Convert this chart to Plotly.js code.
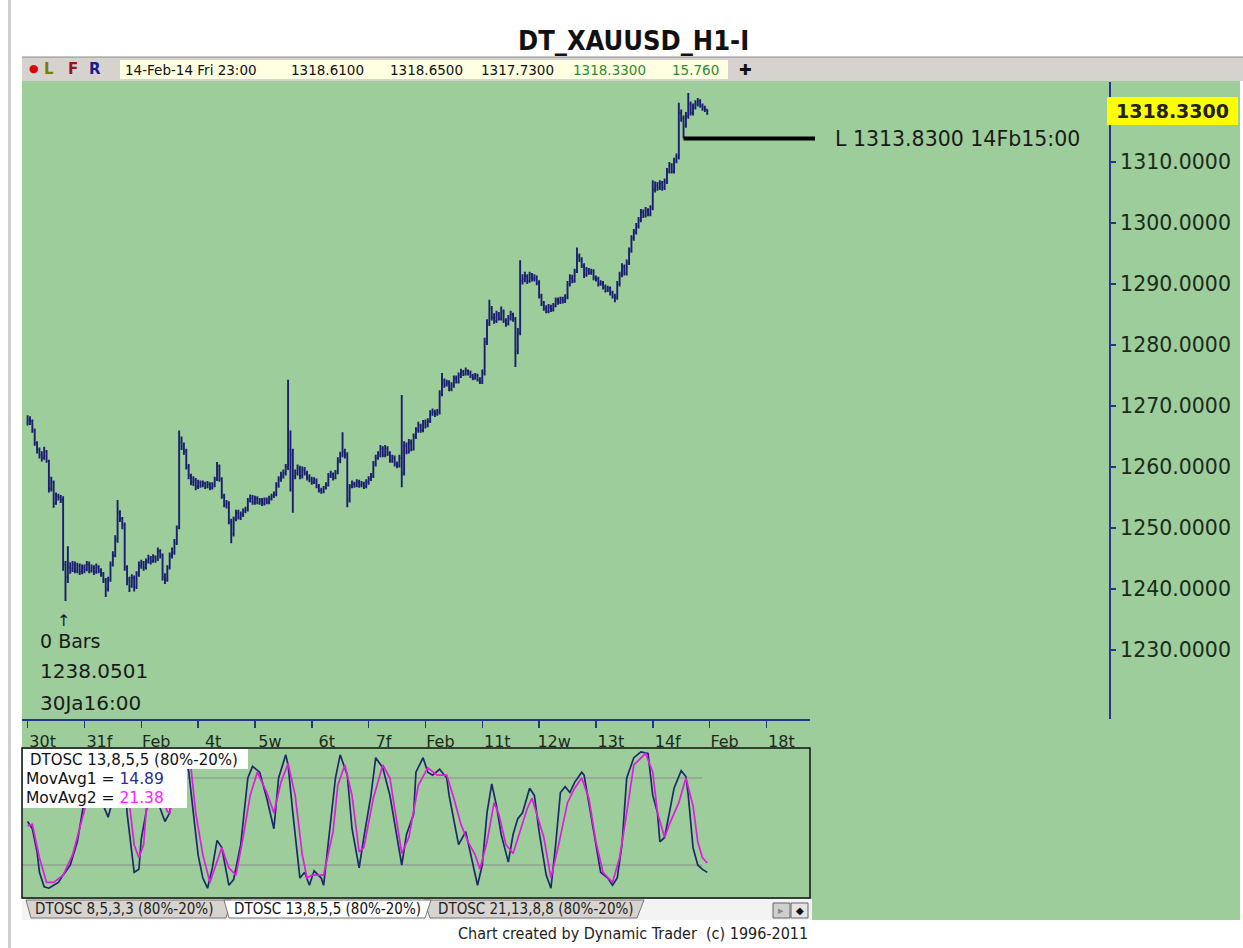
<!DOCTYPE html>
<html>
<head>
<meta charset="utf-8">
<script src="https://cdn.plot.ly/plotly-3.0.1.min.js"></script>
<style>html,body{margin:0;padding:0;background:#fff;}#chart{width:1243px;height:948px;}</style>
</head>
<body>
<div id="chart"></div>
<script>
// ---------- DATA (hourly bars, 30 Jan - 14 Feb 2014) ----------
const dayLabels = ['30t','31f','Feb','4t','5w','6t','7f','Feb','11t','12w','13t','14f','Feb','18t'];
const priceTicks = [1230,1240,1250,1260,1270,1280,1290,1300,1310];

const O = [
1267.2,1267.7,1267.5,1266.0,1263.9,1262.8,1262.0,1261.5,1262.5,1261.0,1256.5,1257.5,1254.0,1255.2,1255.0,1254.6,1244.0,1242.0,1243.5,1243.2,1244.0,1243.0,1243.8,1242.8,
1243.5,1243.2,1244.0,1243.0,1243.5,1242.8,1243.6,1243.0,1242.5,1241.5,1240.0,1241.5,1244.0,1245.5,1248.0,1252.5,1251.5,1250.5,1243.5,1241.5,1240.5,1241.8,1240.3,1242.5,
1243.8,1244.2,1243.5,1244.5,1245.0,1244.6,1245.2,1244.8,1246.2,1245.5,1242.0,1241.5,1243.5,1245.5,1246.0,1247.5,1250.0,1264.0,1263.5,1262.5,1260.0,1258.5,1257.5,1257.8,
1256.8,1257.4,1257.0,1257.3,1256.8,1257.2,1256.6,1257.0,1258.0,1260.2,1258.0,1255.2,1253.8,1254.0,1251.0,1249.0,1251.5,1252.5,1251.8,1252.2,1252.8,1253.0,1254.5,1255.0,
1254.2,1254.8,1254.2,1254.5,1254.0,1254.6,1254.2,1254.8,1255.2,1255.5,1257.0,1258.0,1258.5,1259.0,1260.0,1262.8,1262.0,1258.5,1259.0,1259.8,1258.5,1259.6,1259.0,1258.3,
1258.0,1257.5,1257.8,1256.8,1256.2,1256.0,1256.5,1257.0,1258.5,1258.8,1258.2,1259.0,1261.0,1262.0,1262.5,1262.0,1254.5,1256.8,1257.2,1257.0,1257.5,1257.0,1257.3,1256.8,
1257.5,1258.0,1258.5,1260.5,1261.5,1262.0,1263.0,1262.0,1263.0,1262.2,1261.0,1261.5,1260.5,1260.2,1261.5,1259.0,1263.5,1262.5,1264.0,1263.0,1265.0,1266.0,1266.8,1266.0,
1267.3,1266.8,1267.5,1268.8,1269.0,1268.7,1269.0,1272.0,1274.0,1273.5,1273.8,1272.8,1273.4,1274.5,1274.0,1275.0,1275.6,1275.2,1275.8,1275.4,1275.0,1274.6,1275.0,1274.3,
1274.0,1275.5,1280.5,1283.5,1286.0,1284.5,1284.0,1285.0,1284.3,1285.5,1284.0,1283.5,1284.5,1285.0,1284.2,1279.0,1282.0,1290.5,1290.8,1291.2,1290.5,1291.5,1290.8,1291.0,
1290.2,1288.0,1286.8,1286.0,1285.5,1286.2,1285.8,1286.5,1287.3,1287.0,1287.5,1287.2,1287.8,1290.0,1291.0,1290.5,1292.0,1294.5,1294.0,1293.0,1291.5,1292.3,1291.8,1292.0,
1291.0,1290.8,1290.0,1290.2,1289.5,1289.0,1289.3,1288.5,1288.0,1287.8,1290.0,1291.5,1292.8,1291.8,1293.5,1295.5,1297.5,1298.5,1299.5,1300.5,1301.8,1301.2,1302.0,1301.5,
1302.5,1305.5,1306.2,1305.8,1306.5,1305.8,1306.8,1308.5,1309.5,1308.5,1310.2,1310.8,1318.0,1317.2,1316.0,1317.5,1319.5,1318.0,1319.0,1319.5,1320.0,1319.2,1318.8,1318.61
];
const H = [
1268.5,1268.3,1267.8,1266.3,1264.2,1263.2,1262.6,1263.3,1262.8,1261.2,1258.4,1257.8,1255.8,1255.6,1255.4,1255.2,1244.6,1247.0,1244.4,1244.6,1244.5,1244.3,1244.2,1244.0,
1244.0,1244.6,1244.5,1244.0,1243.9,1244.2,1243.9,1243.4,1242.8,1241.8,1242.0,1244.5,1246.2,1248.8,1254.6,1252.9,1251.8,1250.9,1243.9,1242.0,1242.4,1242.2,1242.9,1244.5,
1244.8,1244.6,1245.0,1245.6,1245.4,1245.7,1245.5,1246.8,1246.5,1245.8,1242.6,1243.9,1246.0,1246.8,1248.2,1250.4,1266.0,1265.0,1264.0,1263.0,1260.5,1258.9,1258.5,1258.2,
1257.9,1257.8,1257.8,1257.6,1257.7,1257.5,1257.5,1258.4,1260.8,1260.4,1258.3,1255.6,1254.6,1254.4,1251.5,1251.9,1253.0,1253.0,1252.7,1253.2,1253.5,1254.9,1255.5,1255.4,
1255.3,1255.2,1254.9,1254.9,1255.0,1255.0,1255.3,1255.6,1256.0,1257.5,1258.5,1259.2,1259.6,1260.5,1274.3,1266.0,1263.0,1259.6,1260.4,1260.2,1260.1,1260.0,1259.4,1258.8,
1258.4,1258.3,1258.1,1257.2,1256.6,1256.9,1257.5,1259.0,1259.4,1259.1,1259.5,1261.6,1262.5,1265.7,1263.0,1262.4,1257.2,1257.8,1257.6,1258.0,1257.9,1257.7,1257.6,1258.0,
1258.5,1259.0,1261.0,1262.0,1262.6,1263.6,1263.4,1263.6,1263.4,1262.6,1262.0,1261.9,1260.9,1262.0,1271.8,1264.2,1264.0,1264.6,1264.5,1265.5,1266.5,1267.4,1267.1,1267.7,
1267.8,1268.0,1269.3,1269.6,1269.4,1269.5,1272.6,1275.4,1274.5,1274.3,1274.2,1273.9,1275.0,1275.0,1275.5,1276.1,1275.9,1276.3,1276.0,1275.8,1275.3,1275.4,1275.3,1274.7,
1276.0,1281.2,1284.2,1287.4,1286.4,1285.2,1285.6,1285.4,1286.3,1285.8,1284.4,1284.9,1285.6,1285.3,1284.6,1282.8,1293.9,1291.6,1292.0,1291.6,1292.0,1291.8,1291.6,1291.4,
1290.6,1288.4,1287.2,1286.5,1286.7,1286.6,1286.9,1287.8,1287.8,1287.9,1287.9,1288.3,1290.5,1291.6,1291.5,1292.5,1296.0,1295.0,1294.4,1293.4,1292.8,1292.6,1292.5,1292.4,
1291.4,1291.2,1290.6,1290.5,1289.9,1289.7,1289.6,1288.9,1288.4,1290.5,1292.0,1293.4,1293.2,1294.0,1296.0,1298.0,1299.0,1300.0,1301.0,1302.3,1302.2,1302.6,1302.4,1302.9,
1307.0,1306.8,1306.7,1307.0,1306.9,1307.3,1309.0,1310.0,1309.8,1310.7,1311.4,1319.7,1318.6,1317.6,1318.2,1321.3,1319.9,1319.6,1320.1,1320.5,1320.3,1319.6,1319.2,1318.65
];
const L = [
1266.8,1266.9,1265.6,1263.5,1262.2,1261.4,1260.9,1261.2,1260.7,1255.8,1256.0,1253.3,1253.8,1254.5,1254.1,1243.0,1238.0501,1241.0,1242.5,1242.8,1242.6,1242.6,1242.3,1242.4,
1242.6,1242.9,1242.6,1242.7,1242.3,1242.5,1242.6,1242.0,1241.0,1238.7,1239.6,1241.2,1243.7,1245.2,1247.6,1251.0,1249.8,1243.0,1240.6,1239.5,1240.2,1239.6,1240.0,1242.0,
1243.3,1243.0,1243.2,1244.2,1244.0,1244.3,1244.3,1244.6,1245.0,1241.4,1240.8,1241.2,1243.2,1245.0,1245.6,1247.2,1249.8,1262.8,1262.0,1259.6,1258.0,1257.0,1256.9,1256.2,
1256.4,1256.6,1256.7,1256.4,1256.5,1256.2,1256.3,1256.7,1257.7,1257.6,1254.8,1253.4,1253.2,1250.6,1247.5,1248.6,1251.1,1251.4,1251.3,1251.8,1252.4,1252.7,1254.2,1253.8,
1253.8,1253.9,1253.8,1253.6,1253.7,1253.9,1253.9,1254.5,1254.9,1255.2,1256.6,1257.6,1258.1,1258.6,1259.5,1256.0,1252.5,1258.0,1258.6,1258.0,1258.1,1258.6,1257.8,1257.5,
1257.1,1257.2,1256.5,1255.8,1255.6,1255.7,1256.3,1256.8,1258.2,1257.8,1258.0,1258.8,1260.6,1261.6,1261.4,1253.4,1254.2,1256.5,1256.6,1256.7,1256.6,1256.7,1256.4,1256.5,
1257.1,1257.7,1258.2,1260.1,1261.2,1261.6,1261.6,1261.6,1261.8,1260.7,1260.7,1260.1,1259.8,1259.9,1256.7,1258.6,1262.1,1262.2,1262.6,1262.7,1264.6,1265.6,1265.6,1265.7,
1266.3,1266.5,1267.2,1268.4,1268.2,1268.4,1268.6,1271.6,1273.0,1273.2,1272.4,1272.4,1273.0,1273.7,1273.7,1274.6,1274.9,1275.0,1275.0,1274.6,1274.2,1274.3,1274.0,1273.6,
1273.6,1275.0,1280.0,1283.1,1284.0,1283.5,1283.6,1284.0,1284.0,1283.6,1283.0,1283.2,1284.0,1283.8,1276.4,1278.5,1281.6,1289.9,1290.3,1290.0,1290.2,1290.4,1290.4,1289.8,
1287.6,1286.4,1285.6,1285.2,1285.2,1285.4,1285.5,1286.2,1286.6,1286.7,1286.8,1286.9,1287.5,1289.6,1290.1,1290.2,1291.8,1293.6,1292.6,1291.0,1291.2,1291.5,1291.5,1290.6,
1290.4,1289.6,1289.7,1289.1,1288.6,1288.7,1288.1,1287.6,1287.0,1287.4,1289.6,1291.1,1291.4,1291.4,1293.1,1295.1,1297.1,1298.1,1299.1,1300.1,1300.8,1300.9,1301.1,1301.1,
1302.1,1305.0,1305.3,1305.4,1305.3,1305.4,1306.4,1308.1,1308.1,1308.1,1309.8,1310.4,1316.6,1313.83,1315.6,1317.1,1317.6,1317.6,1318.6,1319.1,1318.9,1318.4,1318.2,1317.73
];
const C = [
1267.7,1267.5,1266.0,1263.9,1262.8,1262.0,1261.5,1262.5,1261.0,1256.5,1257.5,1254.0,1255.2,1255.0,1254.6,1244.0,1242.0,1243.5,1243.2,1244.0,1243.0,1243.8,1242.8,1243.5,
1243.2,1244.0,1243.0,1243.5,1242.8,1243.6,1243.0,1242.5,1241.5,1240.0,1241.5,1244.0,1245.5,1248.0,1252.5,1251.5,1250.5,1243.5,1241.5,1240.5,1241.8,1240.3,1242.5,1243.8,
1244.2,1243.5,1244.5,1245.0,1244.6,1245.2,1244.8,1246.2,1245.5,1242.0,1241.5,1243.5,1245.5,1246.0,1247.5,1249.0,1264.0,1263.5,1262.5,1260.0,1258.5,1257.5,1257.8,1256.8,
1257.4,1257.0,1257.3,1256.8,1257.2,1256.6,1257.0,1258.0,1260.2,1258.0,1255.2,1253.8,1254.0,1251.0,1249.0,1251.5,1252.5,1251.8,1252.2,1252.8,1253.0,1254.5,1255.0,1254.2,
1254.8,1254.2,1254.5,1254.0,1254.6,1254.2,1254.8,1255.2,1255.5,1257.0,1258.0,1258.5,1259.0,1260.0,1262.8,1262.0,1258.5,1259.0,1259.8,1258.5,1259.6,1259.0,1258.3,1258.0,
1257.5,1257.8,1256.8,1256.2,1256.0,1256.5,1257.0,1258.5,1258.8,1258.2,1259.0,1261.0,1262.0,1262.5,1262.0,1254.5,1256.8,1257.2,1257.0,1257.5,1257.0,1257.3,1256.8,1257.5,
1258.0,1258.5,1260.5,1261.5,1262.0,1263.0,1262.0,1263.0,1262.2,1261.0,1261.5,1260.5,1260.2,1261.5,1259.0,1263.5,1262.5,1264.0,1263.0,1265.0,1266.0,1266.8,1266.0,1267.3,
1266.8,1267.5,1268.8,1269.0,1268.7,1269.0,1272.0,1274.0,1273.5,1273.8,1272.8,1273.4,1274.5,1274.0,1275.0,1275.6,1275.2,1275.8,1275.4,1275.0,1274.6,1275.0,1274.3,1274.0,
1275.5,1280.5,1283.5,1286.0,1284.5,1284.0,1285.0,1284.3,1285.5,1284.0,1283.5,1284.5,1285.0,1284.2,1279.0,1282.0,1290.5,1290.8,1291.2,1290.5,1291.5,1290.8,1291.0,1290.2,
1288.0,1286.8,1286.0,1285.5,1286.2,1285.8,1286.5,1287.3,1287.0,1287.5,1287.2,1287.8,1290.0,1291.0,1290.5,1292.0,1294.5,1294.0,1293.0,1291.5,1292.3,1291.8,1292.0,1291.0,
1290.8,1290.0,1290.2,1289.5,1289.0,1289.3,1288.5,1288.0,1287.8,1290.0,1291.5,1292.8,1291.8,1293.5,1295.5,1297.5,1298.5,1299.5,1300.5,1301.8,1301.2,1302.0,1301.5,1302.5,
1305.5,1306.2,1305.8,1306.5,1305.8,1306.8,1308.5,1309.5,1308.5,1310.2,1310.8,1318.0,1317.2,1316.0,1317.5,1319.5,1318.0,1319.0,1319.5,1320.0,1319.2,1318.8,1318.61,1318.33
];

// DTOSC 13,8,5,5 : fast (navy) and slow (magenta) lines, read at bar positions
const oscFastX = [0,2,4,5,7,9,11,13,15,18,21,23,25,27,29,32,34,35,37,39,41,42,44,45,47,48,50,52,54,56,58,60,62,64,66,68,70,72,74,76,78,80,82,85,87,90,93,95,98,101,104,106,109,110,112,115,117,119,121,124,125,127,130,132,135,137,140,142,145,147,150,153,156,158,160,163,164,167,169,171,174,177,178,181,182,185,187,189,190,192,194,196,198,200,203,205,207,209,212,214,216,219,221,223,225,227,229,231,234,235,238,240,242,245,247,249,251,253,256,259,262,264,266,267,269,271,273,276,278,279,281,283,285,287];
const oscFast  = [50,45,29,15,5,4,6,8,13,20,36,56,75,88,90,61,53,59,80,92,85,56,27,15,17,38,56,80,88,59,50,56,80,92,95,85,56,27,11,4,18,37,32,6,10,34,80,88,84,66,45,80,96,89,56,11,15,6,16,11,6,34,80,96,82,45,18,39,68,94,87,68,39,20,41,55,84,94,84,82,86,80,68,43,34,43,29,15,6,20,56,76,61,41,22,41,52,56,73,68,43,13,4,34,70,74,70,77,84,82,52,34,15,11,6,11,34,80,94,98,97,68,56,36,39,56,73,85,81,68,32,20,17,14.89];
const oscSlowX = [0,2,5,8,11,15,19,23,26,29,31,33,35,38,41,43,45,47,49,50,53,55,57,59,60,62,64,66,69,71,74,77,80,82,85,88,91,94,97,101,104,107,110,113,116,118,120,125,129,131,134,137,140,142,146,150,153,156,158,161,163,165,169,173,177,180,183,186,189,191,194,197,199,202,205,208,211,213,218,221,224,228,231,234,237,240,243,247,250,253,256,261,264,266,269,271,275,278,281,283,285,287];
const oscSlow  = [47,48,25,8,8,13,27,52,70,84,82,70,63,74,86,62,34,25,34,56,75,80,66,57,56,70,85,92,87,56,27,8,22,32,18,13,39,68,84,70,56,77,90,68,27,11,13,13,43,75,89,68,29,32,66,89,80,48,28,39,56,75,87,82,82,66,48,36,27,17,36,63,55,34,28,43,59,66,39,11,32,63,73,80,66,36,15,8,25,56,89,97,84,56,39,48,63,80,61,36,25,21.38];

const lowMarkValue = 1313.83;   // "L" marker on 14 Feb 15:00
const infoItems = ['14-Feb-14 Fri 23:00','1318.6100','1318.6500','1317.7300','1318.3300','15.760'];
const tabNames = ['DTOSC 8,5,3,3 (80%-20%)','DTOSC 13,8,5,5 (80%-20%)','DTOSC 21,13,8,8 (80%-20%)'];

// ---------- LAYOUT HELPERS ----------
const W = 1243, HT = 948;
const px = x => x / W;
const py = y => 1 - y / HT;
const HAND = 'DejaVu Sans, sans-serif';
const UI = 'DejaVu Sans, sans-serif';
const UIC = 'DejaVu Sans Condensed, DejaVu Sans, sans-serif';
const NAVY = '#1a1f70';
const AXIS = '#24358a';
const GREEN = '#9dcd9a';
const XR = [-2.365, 330.4];
const XD = [22, 810];

const barIdx = C.map((_, i) => i);
const lowIdx = L.indexOf(lowMarkValue);
const lowPx = XD[0] + (lowIdx - XR[0]) / (XR[1] - XR[0]) * (XD[1] - XD[0]);
const absLow = Math.min(...L);

const traces = [
  {type:'ohlc', x:barIdx, open:O, high:H, low:L, close:C, xaxis:'x', yaxis:'y',
   increasing:{line:{color:NAVY, width:1.9}}, decreasing:{line:{color:NAVY, width:1.9}},
   tickwidth:0.45, hoverinfo:'skip'},
  {type:'scatter', mode:'lines', x:oscFastX, y:oscFast, xaxis:'x', yaxis:'y2',
   line:{color:'#1c2a6a', width:1.7}, hoverinfo:'skip'},
  {type:'scatter', mode:'lines', x:oscSlowX, y:oscSlow, xaxis:'x', yaxis:'y2',
   line:{color:'#e21be2', width:1.7}, hoverinfo:'skip'}
];

const shapes = [
  {type:'rect', xref:'paper', yref:'paper', x0:px(8), x1:px(11), y0:py(0), y1:py(948), fillcolor:'#d0d0d0', line:{width:0}, layer:'below'},
  {type:'rect', xref:'paper', yref:'paper', x0:px(22), x1:px(1240), y0:py(920), y1:py(81), fillcolor:GREEN, line:{width:0}, layer:'below'},
  {type:'rect', xref:'paper', yref:'paper', x0:px(22), x1:px(1243), y0:py(81), y1:py(57), fillcolor:'#d6d3ce', line:{width:0}, layer:'below'},
  {type:'line', xref:'paper', yref:'paper', x0:px(22), x1:px(1243), y0:py(57), y1:py(57), line:{color:'#8a8a8a', width:1}, layer:'below'},
  {type:'rect', xref:'paper', yref:'paper', x0:px(120), x1:px(728), y0:py(79), y1:py(60), fillcolor:'#ffffe1', line:{width:0}, layer:'below'},
  {type:'line', xref:'x', yref:'y2', x0:-3, x1:285, y0:80, y1:80, line:{color:'#8c8c8c', width:1}, layer:'below'},
  {type:'line', xref:'x', yref:'y2', x0:-3, x1:285, y0:20, y1:20, line:{color:'#8c8c8c', width:1}, layer:'below'},
  {type:'rect', xref:'paper', yref:'paper', x0:px(22), x1:px(810), y0:py(898), y1:py(748), fillcolor:'rgba(0,0,0,0)', line:{color:'#111', width:1.5}, layer:'above'},
  {type:'rect', xref:'paper', yref:'paper', x0:px(23), x1:px(248), y0:py(769), y1:py(749), fillcolor:'#ffffff', line:{width:0}, layer:'above'},
  {type:'rect', xref:'paper', yref:'paper', x0:px(23), x1:px(187), y0:py(808), y1:py(769), fillcolor:'#ffffff', line:{width:0}, layer:'above'},
  {type:'rect', xref:'paper', yref:'paper', x0:px(22), x1:px(812), y0:py(920), y1:py(899), fillcolor:'#f3f3f3', line:{width:0}, layer:'below'},
  {type:'path', xref:'paper', yref:'paper', path:`M ${px(26)},${py(900)} L ${px(31)},${py(918)} L ${px(226)},${py(918)} L ${px(231)},${py(900)} Z`, fillcolor:'#d7d4cf', line:{color:'#777', width:1}, layer:'above'},
  {type:'path', xref:'paper', yref:'paper', path:`M ${px(424)},${py(900)} L ${px(430)},${py(918)} L ${px(637)},${py(918)} L ${px(644)},${py(900)} Z`, fillcolor:'#d7d4cf', line:{color:'#777', width:1}, layer:'above'},
  {type:'path', xref:'paper', yref:'paper', path:`M ${px(224)},${py(900)} L ${px(229)},${py(918)} L ${px(425)},${py(918)} L ${px(431)},${py(900)} Z`, fillcolor:'#ffffff', line:{color:'#777', width:1}, layer:'above'},
  {type:'rect', xref:'paper', yref:'paper', x0:px(773), x1:px(790), y0:py(918), y1:py(903), fillcolor:'#cfcfcf', line:{color:'#666', width:1}, layer:'above'},
  {type:'rect', xref:'paper', yref:'paper', x0:px(791), x1:px(808), y0:py(918), y1:py(903), fillcolor:'#e4e4e4', line:{color:'#666', width:1}, layer:'above'},
  {type:'rect', xref:'paper', yref:'paper', x0:px(1107), x1:px(1238), y0:py(125), y1:py(97), fillcolor:'#ffff00', line:{width:0}, layer:'above'},
  {type:'line', xref:'paper', yref:'y', x0:px(lowPx), x1:px(815), y0:lowMarkValue, y1:lowMarkValue, line:{color:'#000', width:4}, layer:'above'}
];

const ann = (x, y, text, size, color, family, anchor) => ({
  xref:'paper', yref:'paper', x:px(x), y:py(y), text:text, showarrow:false,
  xanchor:anchor || 'left', yanchor:'middle', font:{family:family, size:size, color:color}
});

const annotations = [
  ann(633, 40, '<b>DT_XAUUSD_H1-I</b>', 27, '#111', UIC, 'center'),
  ann(27, 69, '●', 11, '#e00000', UI),
  ann(42, 69, '<b>L</b>', 15, '#7d7d00', UI),
  ann(66, 69, '<b>F</b>', 15, '#9a1515', UI),
  ann(87, 69, '<b>R</b>', 15, '#1b1b90', UI),
  ann(123, 70, infoItems[0], 13.5, '#111', UI),
  ann(289, 70, infoItems[1], 13.5, '#111', UI),
  ann(388, 70, infoItems[2], 13.5, '#111', UI),
  ann(479, 70, infoItems[3], 13.5, '#111', UI),
  ann(571, 70, infoItems[4], 13.5, '#2f8a2f', UI),
  ann(670, 70, infoItems[5], 13.5, '#2f8a2f', UI),
  ann(745, 70, '✚', 15, '#111', HAND, 'center'),
  ann(1172, 111, '<b>' + C[C.length-1].toFixed(4) + '</b>', 19, '#222', HAND, 'center'),
  {xref:'paper', yref:'y', x:px(833), y:lowMarkValue, text:'L ' + lowMarkValue.toFixed(4) + ' 14Fb15:00', showarrow:false,
   xanchor:'left', yanchor:'middle', font:{family:HAND, size:20.5, color:'#1a1a1a'}},
  ann(63, 620, '↑', 16, '#222', HAND, 'center'),
  ann(38, 641, '0 Bars', 19, '#1a1a1a', HAND),
  ann(38, 671, absLow.toFixed(4), 20, '#1a1a1a', HAND),
  ann(38, 703, '30Ja16:00', 20, '#1a1a1a', HAND),
  ann(28, 760, 'DTOSC 13,8,5,5 (80%-20%)', 15, '#111', UI),
  ann(24, 779, 'MovAvg1 = <span style="color:#2b2b8c">' + oscFast[oscFast.length-1].toFixed(2) + '</span>', 15.5, '#111', UI),
  ann(24, 798, 'MovAvg2 = <span style="color:#ff22ff">' + oscSlow[oscSlow.length-1].toFixed(2) + '</span>', 15.5, '#111', UI),
  ann(33, 909, tabNames[0], 15, '#222', UIC),
  ann(232, 909, tabNames[1], 15, '#111', UIC),
  ann(436, 909, tabNames[2], 15, '#222', UIC),
  ann(781, 910, '▸', 11, '#888', UI, 'center'),
  ann(800, 910, '◆', 10, '#111', UI, 'center'),
  ann(633, 933, 'Chart created by Dynamic Trader&nbsp;&nbsp;(c) 1996-2011', 16, '#222', UIC, 'center')
];

const layout = {
  width: W, height: HT, autosize: false,
  margin: {l:0, r:0, t:0, b:0, pad:0},
  paper_bgcolor: '#ffffff', plot_bgcolor: 'rgba(0,0,0,0)',
  showlegend: false, dragmode: false,
  xaxis: {
    domain: [px(XD[0]), px(XD[1])], range: XR, anchor: 'y',
    showline: true, linecolor: AXIS, linewidth: 2,
    ticks: 'outside', ticklen: 7, tickwidth: 1.5, tickcolor: AXIS,
    tickmode: 'array', tickvals: dayLabels.map((_, d) => d * 24), ticktext: dayLabels,
    ticklabelshift: 15,
    tickfont: {family: HAND, size: 16, color: '#1b2a1b'},
    showgrid: false, zeroline: false, fixedrange: true,
    rangeslider: {visible: false}
  },
  yaxis: {
    domain: [py(719), py(82)], range: [1218.69, 1323.11],
    anchor: 'free', position: px(1110), side: 'right',
    showline: true, linecolor: AXIS, linewidth: 2,
    ticks: 'outside', ticklen: 5, tickwidth: 1.5, tickcolor: AXIS,
    tickmode: 'array', tickvals: priceTicks, tickformat: '.4f',
    tickfont: {family: HAND, size: 20.5, color: '#1b2a1b'},
    showgrid: false, zeroline: false, fixedrange: true
  },
  yaxis2: {
    domain: [py(898), py(748)], range: [-2.76, 100.7], anchor: 'x',
    showticklabels: false, showline: false, showgrid: false, zeroline: false, ticks: '', fixedrange: true
  },
  shapes: shapes,
  annotations: annotations
};

Plotly.newPlot('chart', traces, layout, {staticPlot: true, displayModeBar: false});
</script>
</body>
</html>
